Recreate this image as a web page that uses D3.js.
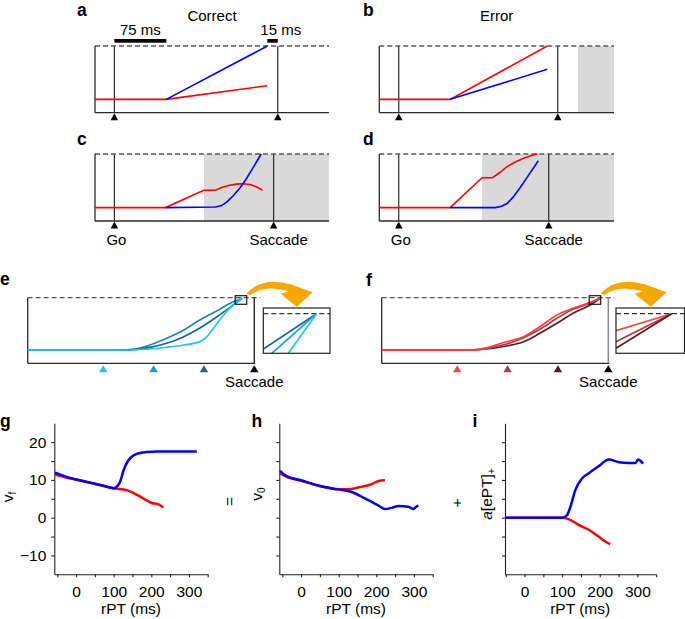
<!DOCTYPE html>
<html><head><meta charset="utf-8">
<script src="https://cdn.jsdelivr.net/npm/d3@7"></script>
<style>
body{margin:0;background:#fff;}
svg{display:block;font-family:"Liberation Sans",Arial,Helvetica,sans-serif;}
</style></head><body>
<script>
// ---------------- DATA ----------------
// Panels a-d: schematic accumulators. time in ms from Go, activity (threshold = 1)
const schemDomain = [-28, 310];
const aRed  = [[-28,0.2],[75,0.2],[221,0.405]];
const aBlue = [[75,0.2],[221,1.0]];
const aEvents = [0, 236];
const bRed  = [[-28,0.2],[74,0.2],[214,1.0]];
const bBlue = [[74,0.2],[214,0.65]];
const bEvents = [0, 229];
const bShade = [258, 310];
const cRed  = [[-28,0.2],[74,0.2],[129,0.458],[146,0.458],[155,0.5],[165,0.53],[176,0.55],[186,0.555],[196,0.545],[205,0.51],[214,0.46]];
const cBlue = [[74,0.2],[146,0.21],[155,0.23],[163,0.29],[172,0.38],[181,0.49],[190,0.62],[200,0.79],[212,1.0]];
const cEvents = [0, 230];
const cShade = [129.5, 310];
const dRed  = [[-28,0.2],[74,0.2],[120,0.646],[135,0.646],[145,0.72],[156,0.81],[168,0.88],[180,0.935],[190,0.975],[200,1.0]];
const dBlue = [[74,0.2],[139,0.2],[148,0.22],[156,0.26],[165,0.36],[175,0.5],[188,0.7],[201,0.9]];
const dEvents = [0, 216];
const dShade = [120, 310];
const eventLabels = ["Go", "Saccade"];
const scaleBars = [[0, 75, "75 ms"], [221, 236, "15 ms"]];

// Panels e-f: time in ms relative to saccade
const efDomain = [-225, 1];
const efMarks = [-150, -100, -50, 0];
const eColors = ["#22c4f0", "#1f97cf", "#15659a", "#000000"];
const fColors = ["#f04646", "#b23a44", "#5a1c22", "#000000"];
const eCurveTop = [[-225,0.2],[-140,0.2],[-120,0.213],[-103.5,0.279],[-87,0.381],[-70,0.508],[-54,0.66],[-37,0.802],[-21,0.939],[-12,0.991]];
const eCurveMid = [[-225,0.2],[-150,0.2],[-120,0.21],[-103.5,0.244],[-87,0.305],[-70,0.406],[-54,0.538],[-37,0.71],[-21,0.889],[-12,0.991]];
const eCurveBot = [[-225,0.2],[-140,0.2],[-103.5,0.218],[-87,0.244],[-70,0.279],[-54,0.33],[-47,0.406],[-40.5,0.534],[-30.5,0.736],[-21,0.889],[-12,0.991]];
const fCurveTop = [[-225,0.2],[-140,0.2],[-127,0.215],[-101,0.329],[-84,0.405],[-68,0.558],[-51,0.736],[-35,0.838],[-18,0.93],[-8,0.991]];
const fCurveMid = [[-225,0.2],[-140,0.2],[-127,0.212],[-101,0.294],[-84,0.39],[-68,0.518],[-51,0.686],[-35,0.823],[-18,0.915],[-8,0.991]];
const fCurveBot = [[-225,0.2],[-140,0.2],[-127,0.21],[-101,0.264],[-84,0.329],[-68,0.457],[-51,0.61],[-35,0.762],[-18,0.889],[-8,0.991]];
const zoomWindow = [[-19, -7.5], [0.9, 1.03]];
// inset lines, normalized inset coordinates
const insetThreshold = 0.874;
const eInset = [[[0,0.095],[0.8,0.874]], [[0.126,0],[0.8,0.874]], [[0.375,0],[0.8,0.874]]];
const eInsetColors = ["#15659a", "#1f9fd6", "#22c4f0"];
const fInset = [[[0,0.5],[0.813,0.874]], [[0,0.256],[0.813,0.874]], [[0,0.11],[0.813,0.874]]];
const fInsetColors = ["#f04646", "#b23a44", "#5a1c22"];

// Panels g-i: rPT (ms) vs value
const yTicks = [-10, -5, 0, 5, 10, 15, 20];
const xTicks = [-50, 0, 50, 100, 150, 200, 250, 300, 350];
const gBlue = [[-56,11.9],[-25,10.8],[0,10.1],[50,9.0],[90,8.0],[100,7.8],[108,8.2],[117,9.5],[126,12.5],[139,15.2],[161,16.9],[188,17.4],[215,17.5],[321,17.5]];
const gRed  = [[-56,11.4],[-25,10.6],[0,10.1],[50,9.0],[99,7.8],[135,7.3],[152,6.6],[179,5.1],[201,3.9],[219,3.5],[232,2.7]];
const hBlue = [[-56,12.4],[-42,11.2],[0,9.9],[50,8.4],[99,7.5],[135,6.8],[170,5.1],[206,3.2],[223,2.3],[241,2.6],[259,3.1],[285,2.9],[299,2.3],[305,2.8],[312,3.2]];
const hRed  = [[-56,11.7],[-34,10.6],[0,9.8],[50,8.4],[99,7.5],[126,7.5],[152,8.0],[188,8.9],[206,9.7],[223,9.9]];
const iBlue = [[-52,0],[100,0],[113,0.7],[122,2.9],[135,7.3],[153,10.4],[171,11.8],[197,13.6],[224,15.4],[251,14.7],[277,14.5],[295,14.5],[302,15.4],[309,15.0],[315,14.3]];
const iRed  = [[-52,0],[100,0],[117,-0.4],[144,-1.9],[171,-3.2],[197,-5],[215,-6.3],[228,-7]];

// ---------------- DRAW ----------------
const svg = d3.select("body").append("svg").attr("width", 685).attr("height", 619);
const RED = "#ff0000", BLUE = "#0000ff", FR = "#2a2a2a";

function tri(g, x, yb, color, w = 7.5, h = 7) {
  g.append("path").attr("d", `M${x - w/2},${yb + h + 0.5}L${x + w/2},${yb + h + 0.5}L${x},${yb + 0.5}Z`).attr("fill", color);
}

function schematic(cfg) {
  const x = d3.scaleLinear().domain(schemDomain).range(cfg.xr);
  const y = d3.scaleLinear().domain([0, 1]).range(cfg.yr);
  const g = svg.append("g");
  if (cfg.shade) g.append("rect").attr("x", x(cfg.shade[0])).attr("y", y(1))
    .attr("width", x(cfg.shade[1]) - x(cfg.shade[0])).attr("height", y(0) - y(1)).attr("fill", "#d9d9d9");
  cfg.events.forEach(t => {
    g.append("line").attr("x1", x(t)).attr("x2", x(t)).attr("y1", y(0)).attr("y2", y(1)).attr("stroke", FR).attr("stroke-width", 1.2);
    tri(g, x(t), y(0), "#000");
  });
  g.append("line").attr("x1", x(schemDomain[0])).attr("x2", x(schemDomain[1])).attr("y1", y(1)).attr("y2", y(1))
    .attr("stroke", "#555").attr("stroke-width", 1.3).attr("stroke-dasharray", "5,3");
  g.append("line").attr("x1", x(schemDomain[0])).attr("x2", x(schemDomain[0])).attr("y1", y(0)).attr("y2", y(1)).attr("stroke", FR).attr("stroke-width", 1.3);
  g.append("line").attr("x1", x(schemDomain[0])).attr("x2", x(schemDomain[1])).attr("y1", y(0)).attr("y2", y(0)).attr("stroke", FR).attr("stroke-width", 1.3);
  const line = d3.line().x(d => x(d[0])).y(d => y(d[1]));
  g.append("path").attr("d", line(cfg.red)).attr("fill", "none").attr("stroke", RED).attr("stroke-width", 1.6);
  g.append("path").attr("d", line(cfg.blue)).attr("fill", "none").attr("stroke", BLUE).attr("stroke-width", 1.6);
  if (cfg.labels) {
    cfg.events.forEach((t, i) => {
      g.append("text").attr("x", x(t) + (i === 0 ? 2 : 5)).attr("y", y(0) + 23.5).attr("text-anchor", "middle")
        .attr("font-size", 15).text(eventLabels[i]);
    });
  }
  if (cfg.bars) {
    scaleBars.forEach((b, i) => {
      g.append("rect").attr("x", x(b[0])).attr("y", y(1) - 7).attr("width", x(b[1]) - x(b[0])).attr("height", 3.7).attr("fill", "#000");
      g.append("text").attr("x", i === 0 ? (x(b[0]) + x(b[1])) / 2 : x(b[1]) + 3).attr("y", y(1) - 11)
        .attr("text-anchor", "middle").attr("font-size", 15).text(b[2]);
    });
  }
  return { x, y };
}

schematic({ xr: [95, 329], yr: [112.7, 46], red: aRed, blue: aBlue, events: aEvents, bars: true });
schematic({ xr: [379.3, 614], yr: [112.7, 46], red: bRed, blue: bBlue, events: bEvents, shade: bShade });
schematic({ xr: [95, 329], yr: [221, 154], red: cRed, blue: cBlue, events: cEvents, shade: cShade, labels: true });
schematic({ xr: [379.3, 614], yr: [221, 154], red: dRed, blue: dBlue, events: dEvents, shade: dShade, labels: true });

function arrowPath(x0, y0) {
  const p = d3.path();
  p.moveTo(x0, y0);
  p.quadraticCurveTo(x0 + 16, y0 - 17, x0 + 44, y0 - 9);
  p.lineTo(x0 + 66, y0 - 1);
  p.lineTo(x0 + 50, y0 + 13.4);
  p.lineTo(x0 + 34, y0 + 0.5);
  p.lineTo(x0 + 42, y0 - 2);
  p.quadraticCurveTo(x0 + 18, y0 - 9, x0 + 3, y0 + 2);
  p.closePath();
  return p.toString();
}

function accumPanel(cfg) {
  const x = d3.scaleLinear().domain(efDomain).range(cfg.xr);
  const y = d3.scaleLinear().domain([0, 1]).range([363.3, 297.7]);
  const g = svg.append("g");
  g.append("line").attr("x1", x(efDomain[0])).attr("x2", x(efDomain[1]) + 5).attr("y1", y(1)).attr("y2", y(1))
    .attr("stroke", "#555").attr("stroke-width", 1.3).attr("stroke-dasharray", "5,3");
  g.append("line").attr("x1", x(efDomain[0])).attr("x2", x(efDomain[0])).attr("y1", y(0)).attr("y2", y(1)).attr("stroke", FR).attr("stroke-width", 1.3);
  g.append("line").attr("x1", x(efDomain[0])).attr("x2", x(efDomain[1])).attr("y1", y(0)).attr("y2", y(0)).attr("stroke", FR).attr("stroke-width", 1.3);
  g.append("line").attr("x1", x(0)).attr("x2", x(0)).attr("y1", y(0)).attr("y2", y(1) - 0.8)
    .attr("stroke", cfg.sacColor).attr("stroke-width", 1.5);
  efMarks.forEach((t, i) => tri(g, x(t), y(0) + 1.5, cfg.colors[i], 8.5, 7));
  g.append("text").attr("x", x(0)).attr("y", 387.3).attr("text-anchor", "middle").attr("font-size", 15).text("Saccade");
  const line = d3.line().x(d => x(d[0])).y(d => y(d[1])).curve(d3.curveMonotoneX);
  cfg.curves.forEach((c, i) => {
    g.append("path").attr("d", line(c)).attr("fill", "none").attr("stroke", cfg.curveColors[i]).attr("stroke-width", 1.7);
  });
  // zoom window
  const zx0 = x(zoomWindow[0][0]), zx1 = x(zoomWindow[0][1]), zy0 = y(zoomWindow[1][1]), zy1 = y(zoomWindow[1][0]);
  g.append("rect").attr("x", zx0).attr("y", zy0).attr("width", zx1 - zx0).attr("height", zy1 - zy0)
    .attr("fill", "none").attr("stroke", "#000").attr("stroke-width", 1.1);
  g.append("path").attr("d", arrowPath(zx1, zy0 - 2.4)).attr("fill", "#f6a800");
  // inset
  const ix = d3.scaleLinear().domain([0, 1]).range(cfg.inset);
  const iy = d3.scaleLinear().domain([0, 1]).range([353.3, 308]);
  const ig = g.append("g");
  const cid = "clip" + cfg.id;
  svg.append("defs").append("clipPath").attr("id", cid).append("rect")
    .attr("x", ix(0)).attr("y", iy(1)).attr("width", ix(1) - ix(0)).attr("height", iy(0) - iy(1));
  ig.append("rect").attr("x", ix(0)).attr("y", iy(1)).attr("width", ix(1) - ix(0)).attr("height", iy(0) - iy(1)).attr("fill", "#fff");
  ig.append("line").attr("x1", ix(0)).attr("x2", ix(1)).attr("y1", iy(insetThreshold)).attr("y2", iy(insetThreshold))
    .attr("stroke", "#333").attr("stroke-width", 1.3).attr("stroke-dasharray", "5,3");
  const il = d3.line().x(d => ix(d[0])).y(d => iy(d[1]));
  cfg.insetLines.forEach((l, i) => {
    ig.append("path").attr("d", il(l)).attr("fill", "none").attr("stroke", cfg.insetColors[i]).attr("stroke-width", 1.7)
      .attr("clip-path", `url(#${cid})`);
  });
  ig.append("rect").attr("x", ix(0)).attr("y", iy(1)).attr("width", ix(1) - ix(0)).attr("height", iy(0) - iy(1))
    .attr("fill", "none").attr("stroke", "#222").attr("stroke-width", 1.2);
}

accumPanel({ id: "e", xr: [27.7, 255.3], colors: eColors, curves: [eCurveTop, eCurveMid, eCurveBot],
  curveColors: ["#1f86bd", "#15659a", "#22c4f0"], sacColor: "#333", inset: [263.3, 330], insetLines: eInset, insetColors: eInsetColors });
accumPanel({ id: "f", xr: [381.7, 609.3], colors: fColors, curves: [fCurveBot, fCurveMid, fCurveTop],
  curveColors: ["#5a1c22", "#b23a44", "#ff3c3c"], sacColor: "#888", inset: [616, 684.5], insetLines: fInset, insetColors: fInsetColors });

function linePlot(cfg) {
  const x = d3.scaleLinear().domain(cfg.xd).range(cfg.xr);
  const y = d3.scaleLinear().domain([-15, 25]).range([574.3, 423.3]);
  const g = svg.append("g");
  const ya = d3.axisLeft(y).tickValues(yTicks).tickSize(3).tickSizeOuter(0).tickPadding(5)
    .tickFormat(d => cfg.labels && d % 10 === 0 ? d3.format("")(d) : "");
  const yg = g.append("g").attr("transform", `translate(${cfg.xr[0]},0)`).call(ya);
  const xa = d3.axisBottom(x).tickValues(xTicks).tickSize(3).tickSizeOuter(0).tickPadding(9)
    .tickFormat(d => d % 100 === 0 && d >= 0 ? d3.format("")(d) : "");
  const xg = g.append("g").attr("transform", `translate(0,${y(-15)})`).call(xa);
  [yg, xg].forEach(a => {
    a.selectAll("path,line").attr("stroke", "#222").attr("stroke-width", 1.1);
    a.selectAll("text").attr("font-size", 15.5).attr("fill", "#000").attr("font-family", "Liberation Sans, Arial, sans-serif");
  });
  g.append("text").attr("x", (cfg.xr[0] + cfg.xr[1]) / 2).attr("y", 614).attr("text-anchor", "middle").attr("font-size", 15.5).text("rPT (ms)");
  const line = d3.line().x(d => x(d[0])).y(d => y(d[1])).curve(d3.curveMonotoneX);
  g.append("path").attr("d", line(cfg.red)).attr("fill", "none").attr("stroke", RED).attr("stroke-width", 2.5);
  g.append("path").attr("d", line(cfg.blue)).attr("fill", "none").attr("stroke", BLUE).attr("stroke-width", 2.5);
  return { x, y, g };
}

linePlot({ xd: [-58, 350], xr: [54.3, 207.7], red: gRed, blue: gBlue, labels: true });
linePlot({ xd: [-58, 350], xr: [279.3, 432.7], red: hRed, blue: hBlue, labels: false });
linePlot({ xd: [-52, 348], xr: [505, 655.4], red: iRed, blue: iBlue, labels: false });

// y-axis labels
function rotText(x, y, build) {
  const t = svg.append("text").attr("transform", `translate(${x},${y}) rotate(-90)`).attr("text-anchor", "middle").attr("font-size", 15.5);
  build(t);
}
rotText(13, 497, t => { t.append("tspan").text("v"); t.append("tspan").attr("font-size", 10).attr("dy", 3).text("f"); });
rotText(262, 494, t => { t.append("tspan").text("v"); t.append("tspan").attr("font-size", 10).attr("dy", 3).text("0"); });
rotText(492, 494, t => { t.append("tspan").attr("font-style", "italic").text("a"); t.append("tspan").text("[ePT]"); t.append("tspan").attr("font-size", 10).attr("dy", 3).text("+"); });
rotText(235, 501.5, t => t.text("="));
rotText(462, 503, t => t.text("+"));

// titles and panel letters
svg.append("text").attr("x", 212).attr("y", 20.7).attr("text-anchor", "middle").attr("font-size", 15).text("Correct");
svg.append("text").attr("x", 496.7).attr("y", 20.7).attr("text-anchor", "middle").attr("font-size", 15).text("Error");
const letters = [["a", 77, 16], ["b", 363, 16], ["c", 77, 145], ["d", 363, 145], ["e", 0, 285], ["f", 366, 286], ["g", 0, 427], ["h", 251.5, 427], ["i", 472.5, 427]];
letters.forEach(l => svg.append("text").attr("x", l[1]).attr("y", l[2]).attr("font-size", 17.5).attr("font-weight", "bold").text(l[0]));
</script></body></html>
